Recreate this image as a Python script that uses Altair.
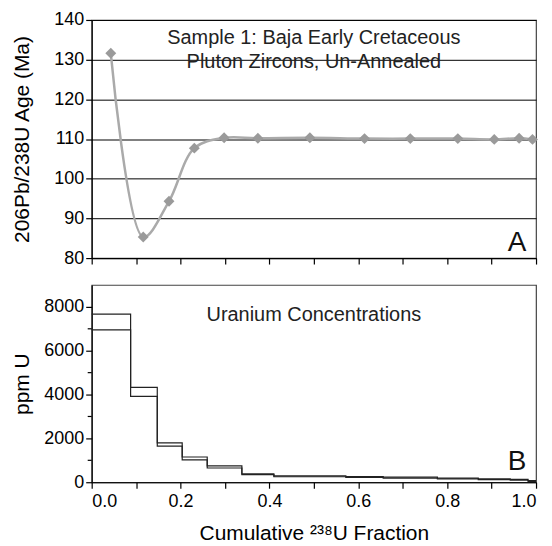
import altair as alt
import pandas as pd

FONT = "Liberation Sans"

# Panel A: age vs cumulative fraction
frac_a = [0.043, 0.116, 0.174, 0.231, 0.298, 0.374, 0.491, 0.614, 0.717, 0.824, 0.906, 0.962, 0.992]
age_a = [131.6, 85.3, 94.3, 107.7, 110.3, 110.2, 110.3, 110.1, 110.1, 110.1, 109.9, 110.2, 109.9]

# Panel B: uranium concentration steps (upper / lower bound)
bin_edges = [0.0, 0.0876, 0.1476, 0.2037, 0.26, 0.338, 0.41, 0.572, 0.656, 0.778, 0.87, 0.942, 0.982, 1.0]
u_upper = [7670, 4330, 1800, 1150, 750, 380, 290, 260, 230, 190, 160, 130, 80]
u_lower = [6955, 3920, 1650, 1020, 650, 345, 250, 220, 190, 150, 120, 90, 40]

title_a = ["Sample 1:  Baja Early Cretaceous", "Pluton Zircons, Un-Annealed"]
title_a_y = [135.5, 129.5]
title_b = "Uranium Concentrations"
x_ticks = [0.0, 0.1, 0.2, 0.3, 0.4, 0.5, 0.6, 0.7, 0.8, 0.9, 1.0]
y_ticks_a = [80, 90, 100, 110, 120, 130, 140]
y_ticks_b = [0, 2000, 4000, 6000, 8000]
y_minor_b = [1000, 3000, 5000, 7000]

W = 446
HA = 239
HB = 198

df_a = pd.DataFrame({"frac": frac_a, "age": age_a})

rows = []
for name, vals in (("upper", u_upper), ("lower", u_lower)):
    for i, e in enumerate(bin_edges):
        v = vals[i] if i < len(vals) else vals[-1]
        rows.append({"frac": e, "ppm": v, "series": name})
df_b = pd.DataFrame(rows)

xscale = alt.Scale(domain=[0, 1], nice=False, zero=False)

xa = alt.X("frac:Q", scale=xscale,
           axis=alt.Axis(values=x_ticks, labels=False, title=None, grid=False,
                         tickSize=6))
ya = alt.Y("age:Q", scale=alt.Scale(domain=[80, 140], nice=False, zero=False),
           axis=alt.Axis(values=y_ticks_a, title="206Pb/238U Age (Ma)", grid=True,
                         gridColor="black", gridWidth=1, tickSize=6, format="d",
                         titleX=-69, titleBaseline="middle", titleAngle=-90))

line_a = alt.Chart(df_a).mark_line(interpolate="catmull-rom", color="#aaaaaa",
                                   strokeWidth=2.5).encode(x=xa, y=ya)
pts_a = alt.Chart(df_a).mark_point(shape="diamond", filled=True, size=120,
                                   color="#9a9a9a", opacity=1).encode(x=xa, y=ya)
txt_a = alt.Chart(pd.DataFrame({"t": title_a, "age": title_a_y, "frac": [0.5, 0.5]})).mark_text(
    font=FONT, fontSize=20, color="#222", align="center", baseline="middle"
).encode(x=xa, y=ya, text="t:N")
lab_a = alt.Chart(pd.DataFrame({"t": ["A"]})).mark_text(
    font=FONT, fontSize=28, color="#111", align="center", baseline="middle"
).encode(x=alt.value(W - 19), y=alt.value(HA - 15), text="t:N")

panel_a = alt.layer(line_a, pts_a, txt_a, lab_a).properties(width=W, height=HA)

xb = alt.X("frac:Q", scale=xscale,
           axis=alt.Axis(values=x_ticks, format=".1f",
                         labelExpr="round(datum.value*10) % 2 == 0 ? format(datum.value, '.1f') : ''",
                         title="Cumulative \u00b2\u00b3\u2078U Fraction", grid=False, tickSize=6,
                         labelPadding=4, titlePadding=12))
yb = alt.Y("ppm:Q", scale=alt.Scale(domain=[0, 9000], nice=False),
           axis=alt.Axis(values=y_ticks_b, title="ppm U", grid=False, tickSize=6, format="d",
                         titleX=-69, titleBaseline="middle", titleAngle=-90))

steps = alt.Chart(df_b).mark_line(interpolate="step-after", color="#222",
                                  strokeWidth=1.2).encode(x=xb, y=yb, detail="series:N")
minor = alt.Chart(pd.DataFrame({"ppm": y_minor_b})).mark_rule(color="black", strokeWidth=1.2).encode(
    y=yb, x=alt.value(-4), x2=alt.value(0))
txt_b = alt.Chart(pd.DataFrame({"t": [title_b], "frac": [0.5], "ppm": [7650]})).mark_text(
    font=FONT, fontSize=20, color="#222", align="center", baseline="middle"
).encode(x=xb, y=yb, text="t:N")
lab_b = alt.Chart(pd.DataFrame({"t": ["B"]})).mark_text(
    font=FONT, fontSize=28, color="#111", align="center", baseline="middle"
).encode(x=alt.value(W - 19), y=alt.value(HB - 20), text="t:N")

panel_b = alt.layer(steps, minor, txt_b, lab_b).properties(width=W, height=HB)

chart = alt.vconcat(panel_a, panel_b, spacing=16).properties(
    background="white",
    padding={"left": 3, "top": 1, "right": 5, "bottom": 0}
).configure_view(
    stroke="#444", strokeWidth=1.2
).configure_axis(
    labelFont=FONT, titleFont=FONT, labelFontSize=18, titleFontSize=21,
    labelColor="black", titleColor="black", domainColor="black", tickColor="black",
    titleFontWeight="normal", domainWidth=1.2, tickWidth=1.2
)

chart.save("out.html", embed_options={"renderer": "svg", "actions": False})
